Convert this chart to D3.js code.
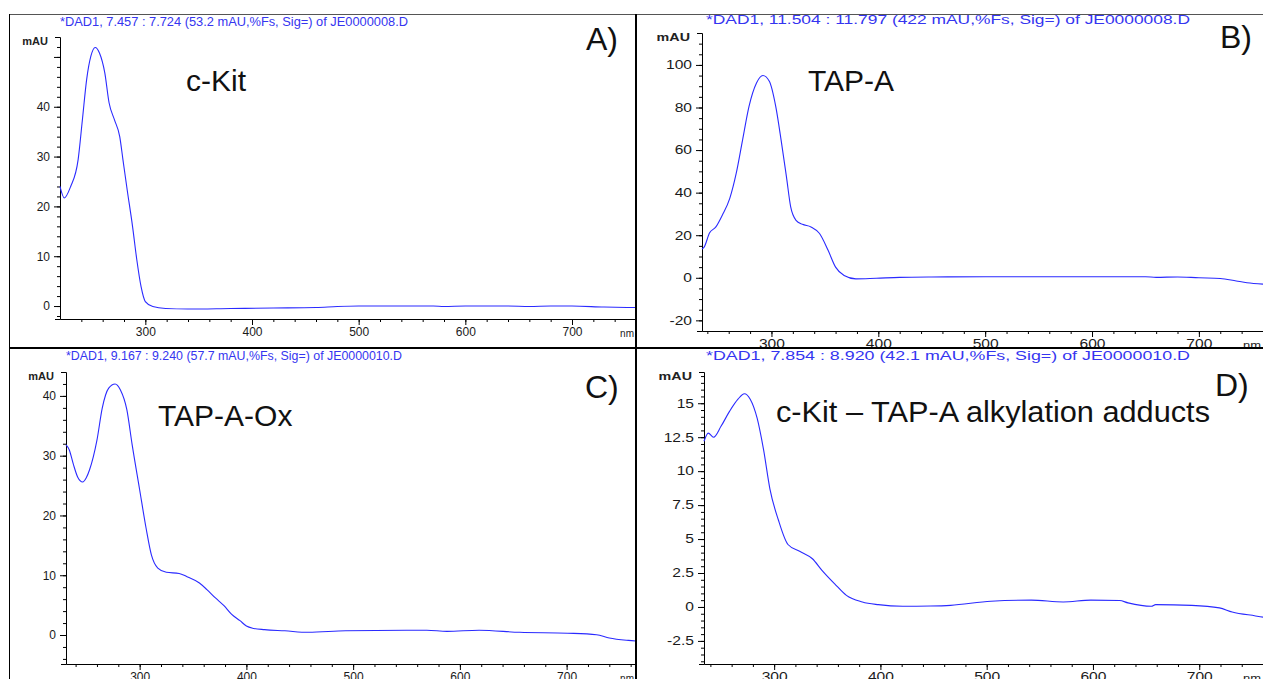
<!DOCTYPE html>
<html>
<head>
<meta charset="utf-8">
<script src="https://cdn.jsdelivr.net/npm/d3@7"></script>
<style>
  body { margin: 0; background: #fff; }
  svg { display: block; }
</style>
</head>
<body>
<div id="chart"></div>
<script>
// spectra (wavelength nm / absorbance mAU)
var kitNm  = [220,224,230,237,241,245,249,253,257,262,266,271,276,279,283,288,292,296,300,307,319,340,380,420,460,480,500,540,570,580,600,640,660,680,700,730,760];
var kitAbs = [24,21.7,24,29.4,37.4,45.5,50.2,51.9,50.8,46.8,40.8,37.4,34,29.4,23.3,16,9.3,3.9,0.9,-0.1,-0.5,-0.6,-0.5,-0.4,-0.3,-0.1,0,0,0,-0.1,0,0,-0.1,0,0,-0.2,-0.3];

var tapNm  = [235,237,242,248,254,261,267,273,279,286,292,298,304,309,314,318,323,329,337,345,353,360,368,379,398,420,450,500,600,650,660,680,700,720,735,745,760];
var tapAbs = [13.5,14.4,21,23.9,29.4,37.3,49,64.8,80.5,91.5,95,92.3,80.5,64.8,47.5,33.3,27,25.1,23.9,20.8,12.9,5,1.1,-0.5,-0.2,0.2,0.4,0.5,0.5,0.5,0.2,0.4,0,-0.3,-1.5,-2.3,-3];

var oxNm  = [231,234,238,242,246.6,250,253,260,265,271,277,282,288,293,300,306,311,317,325,337,344,356,363,371,379,386,394,400,407,417,436,458,493,569,588,618,656,701,728,740,758,765];
var oxAbs = [31.8,31,28.5,26.4,25.6,26.3,27.6,32.6,38,41.3,42,41,37.7,31.8,24.3,17.9,13.4,11.2,10.5,10.3,9.8,8.7,7.6,6.2,4.9,3.5,2.4,1.5,1.1,0.9,0.7,0.45,0.7,0.8,0.6,0.8,0.45,0.3,0.05,-0.5,-0.9,-1];

var adductNm  = [234,238,243,250,258,266,272,277.5,284,290,296,304,313,324,336,345,357,368,383,398,421,447,466,504,542,572,598,625,633,655,659,693,719,731,753,760];
var adductAbs = [12.2,12.8,12.5,13.3,14.4,15.3,15.7,15.3,13.9,11.6,8.7,6.4,4.6,4.1,3.55,2.7,1.7,0.85,0.37,0.17,0.05,0.07,0.12,0.42,0.5,0.37,0.5,0.47,0.3,0.05,0.17,0.12,-0.07,-0.37,-0.66,-0.75];

// header lines, sample names and panel letters
var headers = [
  "*DAD1, 7.457 : 7.724 (53.2 mAU,%Fs, Sig=) of JE0000008.D",
  "*DAD1, 11.504 : 11.797 (422 mAU,%Fs, Sig=) of JE0000008.D",
  "*DAD1, 9.167 : 9.240 (57.7 mAU,%Fs, Sig=) of JE0000010.D",
  "*DAD1, 7.854 : 8.920 (42.1 mAU,%Fs, Sig=) of JE0000010.D"
];
var names = ["c-Kit", "TAP-A", "TAP-A-Ox", "c-Kit \u2013 TAP-A alkylation adducts"];
var letters = ["A)", "B)", "C)", "D)"];

// tick labels
var xMajor = [300, 400, 500, 600, 700];
var yMajorA = [0, 10, 20, 30, 40, 50], yLabelA = [0, 10, 20, 30, 40];
var yMajorB = [-20, 0, 20, 40, 60, 80, 100];
var yMajorC = [0, 10, 20, 30, 40];
var yMajorD = [-2.5, 0, 2.5, 5, 7.5, 10, 12.5, 15];

var svgWidth = 1263, svgHeight = 679;
var svg = d3.select("#chart").append("svg")
    .attr("width", svgWidth)
    .attr("height", svgHeight)
    .style("font-family", "Arial, 'Liberation Sans', sans-serif");

// panel layout, in page pixels
var panels = [
  {nm: kitNm, abs: kitAbs, xDom: [220, 760], yDom: [-2.6, 54], left: 60, right: 636, top: 37, bottom: 319,
   yMajor: yMajorA, yLabel: yLabelA, yMinorStep: 2, stretch: 1,
   titleX: 60, titleW: 348, titleY: 26, nameX: 186, nameY: 91, letterX: 586, letterY: 50},
  {nm: tapNm, abs: tapAbs, xDom: [235, 760], yDom: [-25, 115], left: 702, right: 1263, top: 33, bottom: 331,
   yMajor: yMajorB, yLabel: yMajorB, yMinorStep: 5, stretch: 1.3,
   titleX: 706, titleW: 484, titleY: 24, nameX: 808, nameY: 91, letterX: 1220, letterY: 48},
  {nm: oxNm, abs: oxAbs, xDom: [231, 765], yDom: [-4.85, 44], left: 66, right: 636, top: 372, bottom: 664,
   yMajor: yMajorC, yLabel: yMajorC, yMinorStep: 2, stretch: 1,
   titleX: 66, titleW: 336, titleY: 360, nameX: 158, nameY: 426, letterX: 585, letterY: 398},
  {nm: adductNm, abs: adductAbs, xDom: [234, 760], yDom: [-4.2, 17.3], left: 704, right: 1263, top: 372, bottom: 664,
   yMajor: yMajorD, yLabel: yMajorD, yMinorStep: 0.5, stretch: 1.3,
   titleX: 706, titleW: 484, titleY: 360, nameX: 776, nameW: 434, nameY: 422, letterX: 1215, letterY: 396}
];

function minorTicks(dom, step) {
  var out = [];
  var start = Math.ceil(dom[0] / step) * step;
  for (var v = start; v <= dom[1] + 1e-9; v += step) out.push(+v.toFixed(3));
  return out;
}

function stretchText(sel, k) {
  if (k === 1) return;
  sel.each(function() {
    var w = this.getComputedTextLength();
    if (w > 0) d3.select(this).attr("textLength", w * k).attr("lengthAdjust", "spacingAndGlyphs");
  });
}

panels.forEach(function(p, i) {
  var g = svg.append("g");
  var xScale = d3.scaleLinear().domain(p.xDom).range([p.left, p.right]);
  var yScale = d3.scaleLinear().domain(p.yDom).range([p.bottom, p.top]);

  // minor ticks
  var xMinor = minorTicks([240, p.xDom[1]], 20);
  g.append("g")
    .attr("transform", "translate(0," + p.bottom + ")")
    .call(d3.axisBottom(xScale).tickValues(xMinor).tickSize(3).tickFormat(""))
    .call(function(a) { a.select(".domain").remove(); });
  g.append("g")
    .attr("transform", "translate(" + p.left + ",0)")
    .call(d3.axisLeft(yScale).tickValues(minorTicks(p.yDom, p.yMinorStep)).tickSize(3).tickFormat(""))
    .call(function(a) { a.select(".domain").remove(); });

  // major ticks
  var xAxis = g.append("g")
    .attr("transform", "translate(0," + p.bottom + ")")
    .call(d3.axisBottom(xScale).tickValues(xMajor).tickSize(6).tickSizeOuter(0).tickPadding(2));
  var yAxis = g.append("g")
    .attr("transform", "translate(" + p.left + ",0)")
    .call(d3.axisLeft(yScale).tickValues(p.yMajor).tickSize(6).tickSizeOuter(5).tickPadding(4)
      .tickFormat(function(d) { return p.yLabel.indexOf(d) >= 0 ? d : ""; }));

  [xAxis, yAxis].forEach(function(a) {
    a.attr("font-family", null).attr("font-size", null);
    a.selectAll("text").style("font-size", "12px").style("fill", "#1a1a1a");
    a.selectAll("line, path").attr("stroke", "#000");
    stretchText(a.selectAll("text"), p.stretch);
  });

  // unit labels
  var mau = g.append("text")
    .attr("x", p.left - 12).attr("y", p.top + 8)
    .attr("text-anchor", "end")
    .style("font-size", "11px").style("font-weight", "bold").style("fill", "#222")
    .text("mAU");
  stretchText(mau, p.stretch);
  var nmLab = g.append("text")
    .attr("x", p.right - 2).attr("y", p.bottom + 18)
    .attr("text-anchor", "end")
    .style("font-size", "10px").style("fill", "#222")
    .text("nm");
  stretchText(nmLab, p.stretch);

  // spectrum
  var line = d3.line()
    .x(function(d) { return xScale(d[0]); })
    .y(function(d) { return yScale(d[1]); })
    .curve(d3.curveMonotoneX);
  g.append("path")
    .datum(p.nm.map(function(v, j) { return [v, p.abs[j]]; }))
    .attr("d", line)
    .attr("fill", "none")
    .attr("stroke", "#2a2aff")
    .attr("stroke-width", 1.1);

  // header line
  g.append("text")
    .attr("x", p.titleX).attr("y", p.titleY)
    .attr("textLength", p.titleW).attr("lengthAdjust", "spacingAndGlyphs")
    .style("font-size", "12px").style("fill", "#3535f0")
    .text(headers[i]);

  var nameText = g.append("text")
    .attr("x", p.nameX).attr("y", p.nameY)
    .style("font-size", "30px").style("fill", "#111")
    .text(names[i]);
  if (p.nameW) nameText.attr("textLength", p.nameW).attr("lengthAdjust", "spacingAndGlyphs");
  g.append("text")
    .attr("x", p.letterX).attr("y", p.letterY)
    .style("font-size", "32px").style("fill", "#111")
    .text(letters[i]);
});

// frame lines between the panels
svg.append("line").attr("x1", 9).attr("x2", svgWidth).attr("y1", 14.5).attr("y2", 14.5)
  .attr("stroke", "#555").attr("stroke-width", 1);
svg.append("line").attr("x1", 9.5).attr("x2", 9.5).attr("y1", 14).attr("y2", svgHeight)
  .attr("stroke", "#000").attr("stroke-width", 1);
svg.append("line").attr("x1", 636).attr("x2", 636).attr("y1", 14).attr("y2", svgHeight)
  .attr("stroke", "#000").attr("stroke-width", 2);
svg.append("line").attr("x1", 9).attr("x2", svgWidth).attr("y1", 348).attr("y2", 348)
  .attr("stroke", "#000").attr("stroke-width", 2);
</script>
</body>
</html>
